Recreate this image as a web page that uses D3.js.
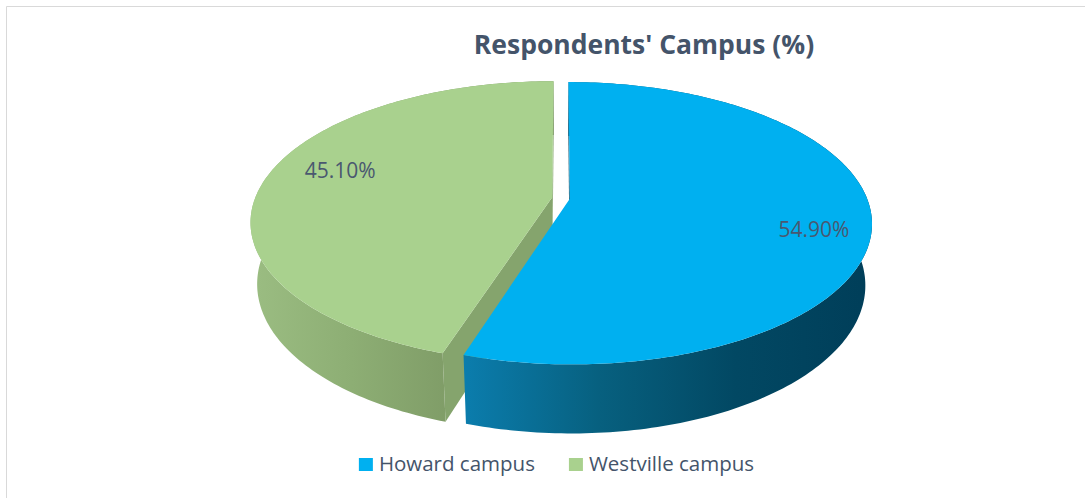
<!DOCTYPE html>
<html>
<head>
<meta charset="utf-8">
<script src="https://cdn.jsdelivr.net/npm/d3@7"></script>
<style>
  body { margin: 0; background: #fff; }
  text { font-family: "Open Sans", "Noto Sans", sans-serif; }
</style>
</head>
<body>
<script>
const width = 1085;
const height = 498;

// chart data
const categories = ["Howard campus", "Westville campus"];
const values = [54.9, 45.1];
const valueLabels = ["54.90%", "45.10%"];
const topColors = ["#00B0F0", "#A9D18E"];
const wallStops = [
  ["#0b7dad", "#07607f", "#024863", "#003e59"],
  ["#9bbd82", "#8dae74", "#7f9c67", "#74905c"]
];
const faceColors = ["#0a4b66", "#85a46d"];
// small nudges so the labels sit where excel put them
const labelNudge = [[10, 14], [12, -11]];

// fake 3d camera
const cx = 561, cy = 198;
const focal = 1515, dist = 5.1;
const sinT = 0.46, cosT = Math.sqrt(1 - sinT * sinT);
const thick = 0.235;
const explode = 0.03;

const svg = d3.select("body").append("svg")
  .attr("width", width)
  .attr("height", height);

const defs = svg.append("defs");

// border (only top and left show in the picture)
svg.append("path")
  .attr("d", `M6.5,${height} V6.5 H${width}`)
  .attr("fill", "none")
  .attr("stroke", "#d9d9d9")
  .attr("stroke-width", 1);

svg.append("text")
  .attr("x", 644)
  .attr("y", 54)
  .attr("text-anchor", "middle")
  .attr("font-size", 26.5)
  .attr("font-weight", "bold")
  .attr("fill", "#44546A")
  .text("Respondents' Campus (%)");

function project(X, Y, Z) {
  const yUp = Z * cosT - Y * sinT;
  const d = dist - (Y * cosT + Z * sinT);
  return [cx + focal * X / d, cy - focal * yUp / d];
}

const pie = d3.pie().sort(null).value(d => d);
const arcs = pie(values);

const line = d3.line();
const camY = dist * cosT;

function sliceParts(a) {
  const mid = (a.startAngle + a.endAngle) / 2;
  const ox = explode * Math.sin(mid);
  const oy = -explode * Math.cos(mid);
  const rim = (t, z) => project(ox + Math.sin(t), oy - Math.cos(t), z);
  const apex = z => project(ox, oy, z);

  const n = Math.max(2, Math.ceil((a.endAngle - a.startAngle) / (Math.PI / 180)));
  const angles = d3.range(n + 1).map(k => a.startAngle + (a.endAngle - a.startAngle) * k / n);

  const top = [apex(0)].concat(angles.map(t => rim(t, 0)));
  const wall = angles.map(t => rim(t, 0))
    .concat(angles.slice().reverse().map(t => rim(t, -thick)));

  // the two cut faces, kept only if they face the camera
  const faces = [];
  [[a.startAngle, -1], [a.endAngle, 1]].forEach(([t, sign]) => {
    const nx = sign * Math.cos(t), ny = sign * Math.sin(t);
    if (nx * (0 - ox) + ny * (camY - oy) > 0) {
      faces.push([apex(0), rim(t, 0), rim(t, -thick), apex(-thick)]);
    }
  });

  return { top, wall, faces, mid, ox, oy };
}

// back slice (westville) first, then howard
const order = [1, 0];
order.forEach(i => {
  const p = sliceParts(arcs[i]);
  const g = svg.append("g").attr("class", "slice");

  const xs = p.wall.map(d => d[0]);
  const grad = defs.append("linearGradient")
    .attr("id", "wall" + i)
    .attr("gradientUnits", "userSpaceOnUse")
    .attr("x1", d3.min(xs)).attr("x2", d3.max(xs))
    .attr("y1", 0).attr("y2", 0);
  wallStops[i].forEach((col, k, arr) => {
    grad.append("stop")
      .attr("offset", k / (arr.length - 1))
      .attr("stop-color", col);
  });

  p.faces.forEach(f => {
    g.append("path")
      .attr("d", line(f) + "Z")
      .attr("fill", faceColors[i]);
  });

  g.append("path")
    .attr("d", line(p.wall) + "Z")
    .attr("fill", `url(#wall${i})`);

  g.append("path")
    .attr("d", line(p.top) + "Z")
    .attr("fill", topColors[i]);

  const r = 0.78;
  const [lx, ly] = project(p.ox + r * Math.sin(p.mid), p.oy - r * Math.cos(p.mid), 0);
  g.append("text")
    .attr("x", lx + labelNudge[i][0])
    .attr("y", ly + labelNudge[i][1])
    .attr("text-anchor", "middle")
    .attr("dominant-baseline", "central")
    .attr("font-size", 21)
    .attr("fill", "#4a5870")
    .text(valueLabels[i]);
});

// legend
const legend = svg.append("g");
let lx = 0;
categories.forEach((c, i) => {
  const item = legend.append("g").attr("transform", `translate(${lx},0)`);
  item.append("rect")
    .attr("x", 0).attr("y", -13)
    .attr("width", 14).attr("height", 13)
    .attr("fill", topColors[i]);
  const t = item.append("text")
    .attr("x", 20).attr("y", 0)
    .attr("font-size", 20.5)
    .attr("fill", "#44546A")
    .text(c);
  lx += 20 + t.node().getComputedTextLength() + 34;
});
const legendW = lx - 34;
legend.attr("transform", `translate(${556.5 - legendW / 2},471)`);
</script>
</body>
</html>
